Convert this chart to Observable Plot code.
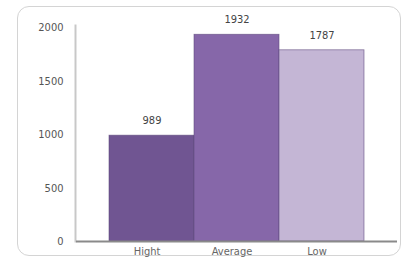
<!DOCTYPE html>
<html><head><meta charset="utf-8">
<script src="https://cdn.jsdelivr.net/npm/d3@7"></script>
<script src="https://cdn.jsdelivr.net/npm/@observablehq/plot@0.6"></script>
<style>
html,body{margin:0;padding:0;background:#fff;}
#wrap{position:relative;width:409px;height:261px;overflow:hidden;}
#box{position:absolute;left:17px;top:6px;width:384px;height:250px;border:1.5px solid #d4d4d4;border-radius:12px;box-sizing:border-box;}
#chart{position:absolute;left:0;top:0;}
</style></head>
<body><div id="wrap"><div id="box"></div><div id="chart"></div></div>
<script>
const categories = ["Hight", "Average", "Low"];
const values = [989, 1932, 1787];
const colors = ["#705592", "#8667a9", "#c4b6d5"];
const yTicks = [0, 500, 1000, 1500, 2000];

const data = categories.map((c, i) => ({cat: c, value: values[i]}));

const chart = Plot.plot({
  width: 409,
  height: 261,
  marginLeft: 76,
  marginRight: 12,
  marginTop: 27,
  marginBottom: 20,
  style: {fontFamily: "'Liberation Sans Narrow', 'DejaVu Sans Condensed', 'Liberation Sans', sans-serif", fontSize: "11px", color: "#555", background: "transparent"},
  x: {domain: categories, paddingInner: 0, paddingOuter: 0.375, label: null},
  y: {domain: [0, 2000], label: null},
  color: {domain: categories, range: colors},
  marks: [
    Plot.frame({anchor: "left", stroke: "#c8c8c8", strokeWidth: 2, dx: -1, insetTop: -2}),
    Plot.barY(data, {x: "cat", y: "value", fill: "cat", stroke: "#5e4a7c", strokeWidth: 0.8, strokeOpacity: 0.7}),
    Plot.ruleY([0], {stroke: "#8a8a8a", strokeWidth: 2}),
    Plot.text(data, {x: "cat", y: "value", text: d => String(d.value), dy: -15, fill: "#444", fontSize: 11}),
    Plot.axisY({ticks: yTicks, tickFormat: d => String(d), tickSize: 0, tickPadding: 13, fill: "#555", fontSize: 11}),
    Plot.axisX({tickSize: 0, tickPadding: 6, fill: "#666", fontSize: 11, dx: -5})
  ]
});
document.getElementById("chart").appendChild(chart);
</script>
</body></html>
